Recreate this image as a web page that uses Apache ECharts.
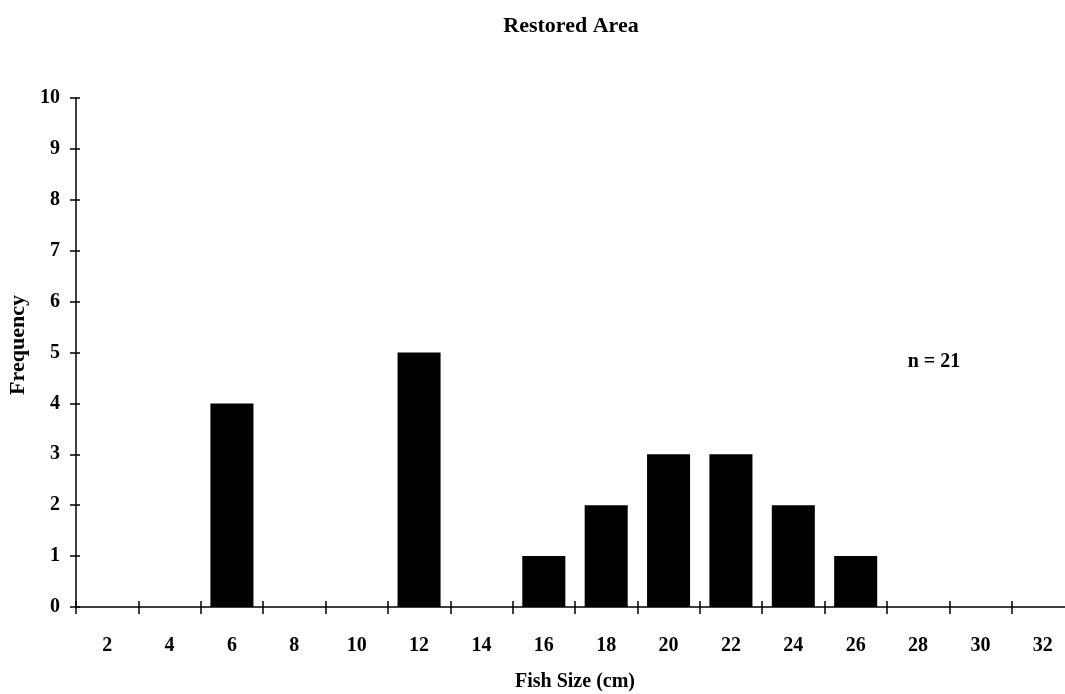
<!DOCTYPE html>
<html>
<head>
<meta charset="utf-8">
<script src="https://cdn.jsdelivr.net/npm/echarts@6/dist/echarts.min.js"></script>
<style>
html,body{margin:0;padding:0;background:#fff;}
#chart{width:1065px;height:694px;}
</style>
</head>
<body>
<div id="chart"></div>
<script>
const categories = ['2','4','6','8','10','12','14','16','18','20','22','24','26','28','30','32'];
const frequency = [0,0,4,0,0,5,0,1,2,3,3,2,1,0,0,0];
const yTicks = {min:0, max:10, interval:1};
const titleText = 'Restored Area';
const xName = 'Fish Size (cm)';
const yName = 'Frequency';
const noteText = 'n = 21';

const FONT = '"Liberation Serif", "Times New Roman", serif';
const chart = echarts.init(document.getElementById('chart'), null, {renderer:'canvas'});
const axisCommon = {color:'#000', width:1.5};
chart.setOption({
  animation:false,
  backgroundColor:'#fff',
  grid:{left:76, width:998, top:98, bottom:87, containLabel:false, outerBoundsMode:'none'},
  graphic:[
    {type:'text', style:{x:571, y:26, text:titleText, font:'bold 22px '+FONT, fill:'#000', textAlign:'center', textVerticalAlign:'middle'}},
    {type:'text', style:{x:934, y:362, text:noteText, font:'bold 20px '+FONT, fill:'#000', textAlign:'center', textVerticalAlign:'middle'}},
    {type:'text', x:18, y:345, rotation:Math.PI/2, style:{x:0, y:0, text:yName, font:'bold 22px '+FONT, fill:'#000', textAlign:'center', textVerticalAlign:'middle'}}
  ],
  xAxis:[
    {type:'category', data:categories, position:'bottom',
     name:xName, nameLocation:'middle', nameGap:65,
     nameTextStyle:{fontFamily:FONT, fontWeight:'bold', fontSize:20, color:'#000'},
     axisLine:{lineStyle:axisCommon}, axisTick:{show:true, length:7, lineStyle:axisCommon, alignWithLabel:false},
     axisLabel:{fontFamily:FONT, fontWeight:'bold', fontSize:20, color:'#000', margin:29},
     splitLine:{show:false}},
    {type:'category', data:categories, position:'bottom', gridIndex:0,
     axisLine:{show:false}, axisTick:{show:true, inside:true, length:6, lineStyle:axisCommon},
     axisLabel:{show:false}, splitLine:{show:false}}
  ],
  yAxis:[
    {type:'value', min:yTicks.min, max:yTicks.max, interval:yTicks.interval, position:'left',
     axisLine:{show:true, lineStyle:axisCommon}, axisTick:{show:true, length:6, lineStyle:axisCommon},
     axisLabel:{fontFamily:FONT, fontWeight:'bold', fontSize:20, color:'#000', margin:16},
     splitLine:{show:false}},
    {type:'value', min:yTicks.min, max:yTicks.max, interval:yTicks.interval, position:'left',
     axisLine:{show:false}, axisTick:{show:true, inside:true, length:4, lineStyle:axisCommon},
     axisLabel:{show:false}, splitLine:{show:false}}
  ],
  series:[
    {type:'bar', data:frequency, xAxisIndex:0, yAxisIndex:0, barWidth:'69%',
     itemStyle:{color:'#000'}}
  ]
});
</script>
</body>
</html>
